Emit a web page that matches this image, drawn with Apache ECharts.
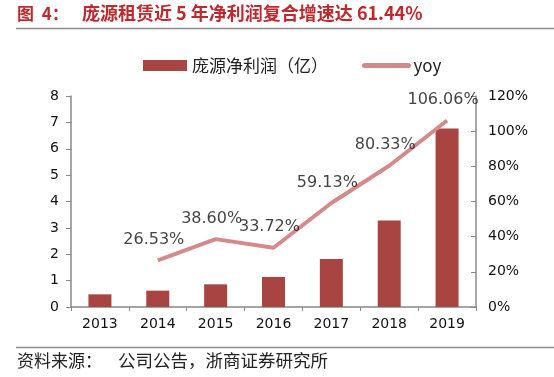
<!DOCTYPE html>
<html>
<head>
<meta charset="utf-8">
<script src="https://cdn.jsdelivr.net/npm/echarts@6/dist/echarts.min.js"></script>
<style>
html,body{margin:0;padding:0;background:#fff;}
#main{width:554px;height:377px;}
</style>
</head>
<body>
<div id="main"></div>
<script>
var years = ['2013','2014','2015','2016','2017','2018','2019'];
var profit = [0.48, 0.62, 0.86, 1.14, 1.82, 3.28, 6.77];
var yoy = ['-', 26.53, 38.60, 33.72, 59.13, 80.33, 106.06];

var myChart = echarts.init(document.getElementById('main'));
var cjk = '"Noto Sans CJK SC", sans-serif';
var option = {
    animation: false,
    backgroundColor: '#fff',
    graphic: [
        {
            type: 'text', left: 17, top: 5,
            style: {text: '图  4：', font: 'bold 17px ' + cjk, fill: '#C0282D'}
        },
        {
            type: 'text', left: 82, top: 4,
            style: {
                text: '庞源租赁近 5 年净利润复合增速达 61.44%',
                font: 'bold 18px ' + cjk, fill: '#C0282D'
            }
        },
        {
            type: 'line', shape: {x1: 16, y1: 28.5, x2: 554, y2: 28.5},
            style: {stroke: '#8a8a8a', lineWidth: 1.5}
        },
        {
            type: 'line', shape: {x1: 16, y1: 347.5, x2: 554, y2: 347.5},
            style: {stroke: '#8a8a8a', lineWidth: 1.5}
        },
        {
            type: 'text', left: 17, top: 352,
            style: {text: '资料来源：', font: '17px ' + cjk, fill: '#222'}
        },
        {
            type: 'text', left: 118, top: 352,
            style: {text: '公司公告，浙商证券研究所', font: '17.5px ' + cjk, fill: '#222'}
        }
    ],
    legend: {
        left: 138, top: 52,
        itemWidth: 44, itemHeight: 11, itemGap: 34,
        textStyle: {fontSize: 17, color: '#222', fontFamily: cjk},
        data: [
            {name: '庞源净利润（亿）', icon: 'rect'},
            {name: 'yoy', itemStyle: {opacity: 0}, lineStyle: {width: 5, cap: 'round'}}
        ]
    },
    grid: {left: 71, right: 78, top: 96, bottom: 70},
    xAxis: [{
        type: 'category',
        data: years,
        axisLine: {lineStyle: {color: '#888', width: 1.5}},
        axisTick: {show: true, length: 4, lineStyle: {color: '#888'}},
        axisLabel: {color: '#111', fontSize: 14, fontFamily: 'DejaVu Sans', margin: 10}
    }],
    yAxis: [
        {
            type: 'value', min: 0, max: 8, interval: 1,
            axisLine: {show: true, lineStyle: {color: '#888', width: 1.5}},
            axisTick: {show: true, length: 5, lineStyle: {color: '#888'}},
            splitLine: {show: false},
            axisLabel: {color: '#111', fontSize: 14, fontFamily: 'DejaVu Sans', margin: 12}
        },
        {
            type: 'value', min: 0, max: 120, interval: 20,
            axisLine: {show: true, lineStyle: {color: '#888', width: 1.5}},
            axisTick: {show: true, inside: true, length: 5, lineStyle: {color: '#888'}},
            splitLine: {show: false},
            axisLabel: {color: '#111', fontSize: 14, fontFamily: 'DejaVu Sans', margin: 12, formatter: '{value}%'}
        }
    ],
    series: [
        {
            name: '庞源净利润（亿）',
            type: 'bar',
            data: profit,
            barWidth: 23,
            itemStyle: {color: '#A84543'}
        },
        {
            name: 'yoy',
            type: 'line',
            yAxisIndex: 1,
            data: yoy,
            symbol: 'none',
            lineStyle: {color: '#D48A8A', width: 4},
            itemStyle: {color: '#D48A8A'}
        },
        {
            // value labels for the yoy line
            name: 'yoyLabel',
            type: 'scatter',
            yAxisIndex: 1,
            data: yoy,
            symbol: 'circle',
            symbolSize: 1,
            itemStyle: {color: 'rgba(0,0,0,0)'},
            z: 5,
            label: {
                show: true, position: 'top', distance: 12, offset: [-4, 0],
                color: '#111', fontSize: 16, fontFamily: 'DejaVu Sans',
                formatter: function(p){
                    return (typeof p.value === 'number') ? p.value.toFixed(2) + '%' : '';
                }
            }
        }
    ]
};
myChart.setOption(option);
</script>
</body>
</html>
